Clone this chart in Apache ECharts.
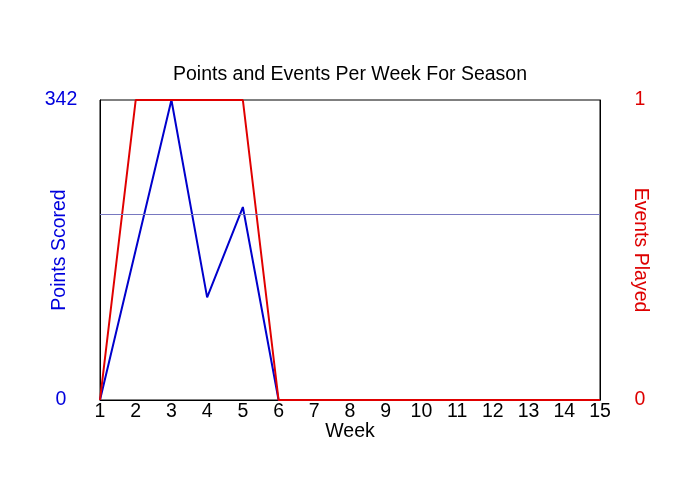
<!DOCTYPE html>
<html><head><meta charset="utf-8">
<script src="https://cdn.jsdelivr.net/npm/echarts@6/dist/echarts.min.js"></script>
<style>html,body{margin:0;padding:0;background:#fff}#c{width:700px;height:500px}</style>
</head><body><div id="c"></div>
<script>
const weeks = ['1','2','3','4','5','6','7','8','9','10','11','12','13','14','15'];
const pointsScored = [0,171,342,117,220,0,0,0,0,0,0,0,0,0,0];
const eventsPlayed = [0,1,1,1,1,0,0,0,0,0,0,0,0,0,0];
const averagePoints = 212;
const pointsMax = 342;
const eventsMax = 1;

const FONT = 'Liberation Sans';
const FS = 19.5;
const chart = echarts.init(document.getElementById('c'));
chart.setOption({
  animation: false,
  backgroundColor: '#fff',
  title: {
    text: 'Points and Events Per Week For Season',
    left: 'center', top: 60,
    textStyle: {fontFamily: FONT, fontSize: FS, fontWeight: 'normal', color: '#000'}
  },
  grid: {left: 100, right: 100, top: 100, bottom: 100, show: true, borderColor: '#000', borderWidth: 1},
  xAxis: {
    type: 'category', data: weeks, boundaryGap: false,
    name: 'Week', nameLocation: 'middle', nameGap: 22, nameMoveOverlap: false,
    nameTextStyle: {fontFamily: FONT, fontSize: FS, color: '#000'},
    axisLine: {lineStyle: {color: '#000'}},
    axisTick: {show: false},
    axisLabel: {fontFamily: FONT, fontSize: FS, color: '#000', margin: 2, interval: 0},
    splitLine: {show: false}
  },
  yAxis: [{
    type: 'value', min: 0, max: pointsMax, interval: pointsMax, position: 'left',
    name: 'Points Scored', nameLocation: 'middle', nameGap: 30, nameRotate: 90, nameMoveOverlap: false,
    nameTextStyle: {fontFamily: FONT, fontSize: FS, color: '#0000dd'},
    axisLine: {show: true, lineStyle: {color: '#000'}},
    axisTick: {show: false},
    axisLabel: {fontFamily: FONT, fontSize: FS, color: '#0000dd', align: 'center', margin: 39},
    splitLine: {show: false}
  }, {
    type: 'value', min: 0, max: eventsMax, interval: eventsMax, position: 'right',
    name: 'Events Played', nameLocation: 'middle', nameGap: 30, nameRotate: -90, nameMoveOverlap: false,
    nameTextStyle: {fontFamily: FONT, fontSize: FS, color: '#dd0000'},
    axisLine: {show: true, lineStyle: {color: '#000'}},
    axisTick: {show: false},
    axisLabel: {fontFamily: FONT, fontSize: FS, color: '#dd0000', align: 'center', margin: 40},
    splitLine: {show: false}
  }],
  series: [{
    name: 'Points Scored', type: 'line', yAxisIndex: 0, data: pointsScored,
    symbol: 'none', lineStyle: {color: '#0000cc', width: 2}, itemStyle: {color: '#0000cc'},
    markLine: {
      silent: true, symbol: 'none', label: {show: false},
      lineStyle: {color: '#7878c0', width: 1, type: 'solid'},
      data: [{yAxis: averagePoints}]
    }
  }, {
    name: 'Events Played', type: 'line', yAxisIndex: 1, data: eventsPlayed,
    symbol: 'none', lineStyle: {color: '#e00000', width: 2}, itemStyle: {color: '#e00000'}
  }]
});
</script></body></html>
